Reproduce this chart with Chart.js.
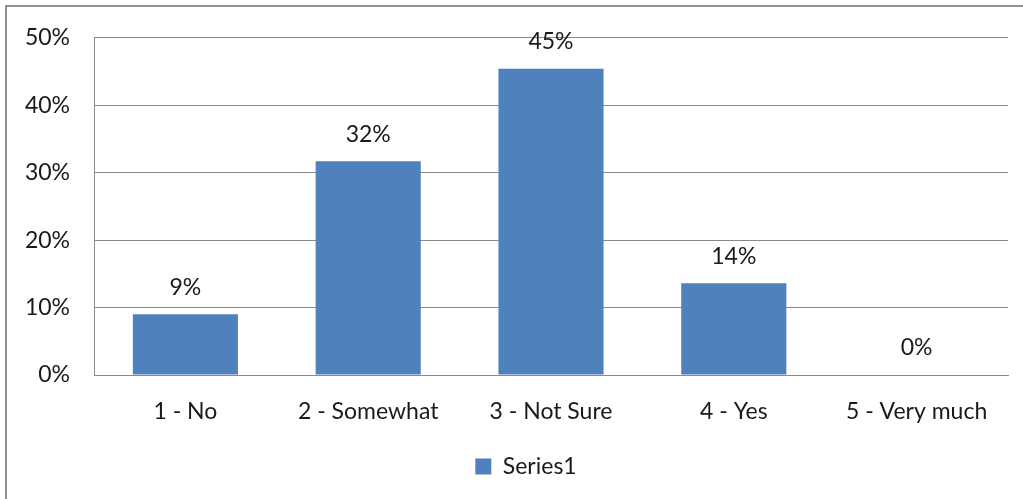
<!DOCTYPE html>
<html lang="en">
<head>
  <meta charset="UTF-8" />
  <title>Series1</title>
  <script src="https://cdn.jsdelivr.net/npm/chart.js"></script>
  <style>
    html, body {
      margin: 0;
      padding: 0;
      background: #fff;
      overflow: hidden;
    }
    #wrap {
      position: relative;
      width: 1023px;
      height: 499px;
    }
    #frame {
      position: absolute;
      left: 5px;
      top: 5px;
      right: -10px;
      bottom: -10px;
      border-left: 2px solid #909090;
      border-top: 2px solid #909090;
      pointer-events: none;
    }
  </style>
</head>
<body>
  <div id="wrap">
    <canvas id="chart" width="1023" height="499"></canvas>
    <div id="frame"></div>
  </div>

  <script>
    const categories = ['1 - No', '2 - Somewhat', '3 - Not Sure', '4 - Yes', '5 - Very much'];
    const seriesName = 'Series1';
    const values = [9.0, 31.7, 45.4, 13.6, 0];
    const yTicks = [0, 10, 20, 30, 40, 50];

    const textFont = { family: 'Lato, "Open Sans", sans-serif', size: 23 };
    const textColor = '#1a1a1a';
    const gridColor = '#8a8a8a';

    // percentage labels above each bar
    const barLabels = {
      id: 'barLabels',
      afterDatasetsDraw(chart) {
        const ctx = chart.ctx;
        const meta = chart.getDatasetMeta(0);
        ctx.save();
        ctx.font = textFont.size + 'px ' + textFont.family;
        ctx.fillStyle = textColor;
        ctx.textAlign = 'center';
        ctx.textBaseline = 'middle';
        meta.data.forEach((bar, i) => {
          ctx.fillText(Math.round(values[i]) + '%', bar.x, bar.y - 27);
        });
        ctx.restore();
      }
    };

    // the original legend sits a bit right of the canvas centre
    const legendShift = {
      id: 'legendShift',
      afterLayout(chart) {
        if (chart.legend) chart.legend.left += 44;
      }
    };

    new Chart(document.getElementById('chart'), {
      type: 'bar',
      data: {
        labels: categories,
        datasets: [{
          label: seriesName,
          data: values,
          backgroundColor: '#4f81bd',
          borderWidth: 0,
          categoryPercentage: 1,
          barPercentage: 0.575
        }]
      },
      options: {
        responsive: false,
        animation: false,
        layout: { padding: { top: 23, right: 15, bottom: 11, left: 0 } },
        plugins: {
          tooltip: { enabled: false },
          legend: {
            position: 'bottom',
            labels: {
              color: textColor,
              font: textFont,
              boxWidth: 16,
              boxHeight: 16,
              padding: 10
            }
          }
        },
        scales: {
          x: {
            grid: { display: false, drawTicks: false },
            border: { color: gridColor, width: 1 },
            ticks: { color: textColor, font: textFont, padding: 23 },
            afterFit: scale => { scale.height = 70; }
          },
          y: {
            min: 0,
            max: 50,
            afterBuildTicks: scale => {
              scale.ticks = yTicks.map(v => ({ value: v }));
            },
            grid: { color: gridColor, lineWidth: 1, drawTicks: false },
            border: { color: gridColor, width: 1 },
            ticks: {
              color: textColor,
              font: textFont,
              padding: 24,
              callback: v => v + '%'
            },
            afterFit: scale => { scale.width = 94; }
          }
        }
      },
      plugins: [barLabels, legendShift]
    });
  </script>
</body>
</html>
